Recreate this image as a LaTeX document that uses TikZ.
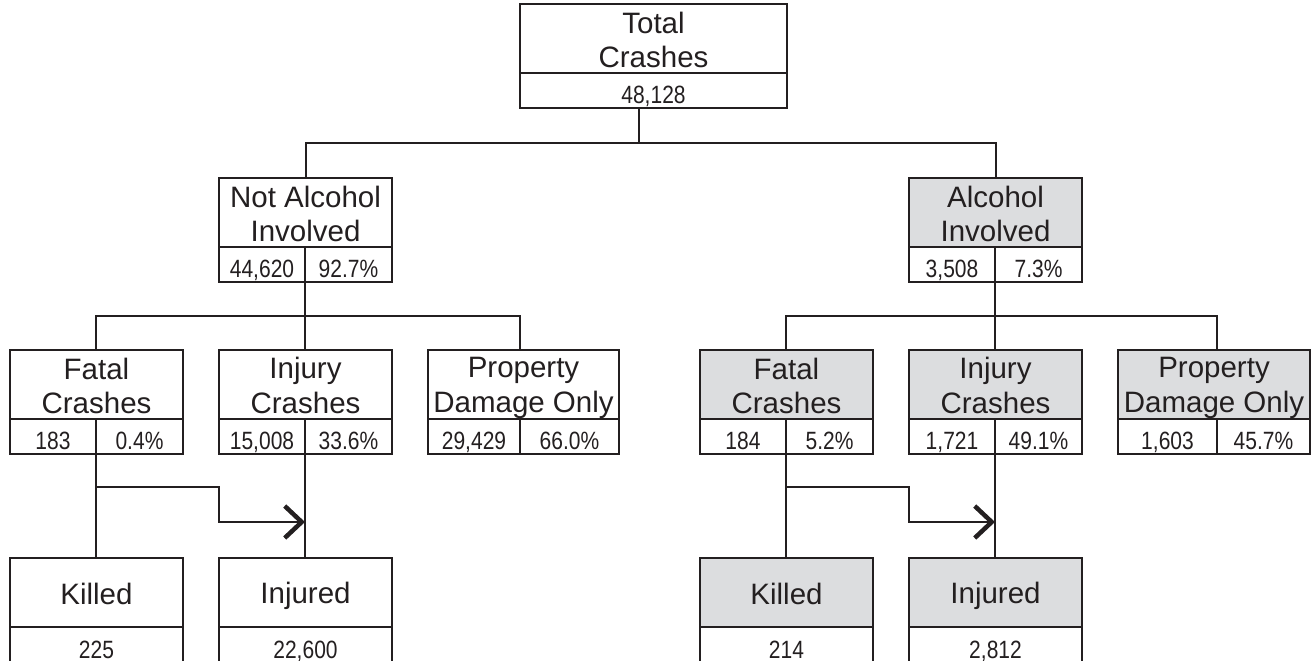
\documentclass[tikz,border=0pt]{standalone}
\usepackage{fontspec}
\setmainfont{Liberation Sans}
\newfontfamily\condfont[FakeStretch=0.84]{Liberation Sans}
\usepackage{xcolor}
\usetikzlibrary{positioning,arrows.meta}
\definecolor{ink}{RGB}{35,31,32}
\definecolor{alcgray}{RGB}{220,221,223}
\newcommand\hstrut{\rule[-4pt]{0pt}{31.5pt}}
\tikzset{
  head/.style={draw=ink, line width=2pt, rectangle, inner sep=0pt, outer sep=0pt, minimum height=69pt, align=center, text=ink, font=\fontsize{29.5pt}{33.5pt}\selectfont},
  cell/.style={draw=ink, line width=2pt, rectangle, inner sep=0pt, outer sep=0pt, minimum height=35pt, text height=28pt, text depth=3pt, text=ink, font=\condfont\fontsize{25pt}{29pt}\selectfont},
  alc/.style={fill=alcgray},
  link/.style={draw=ink, line width=2pt},
  barb/.style={-{Straight Barb[length=17pt,width=32pt,line width=4.5pt]}}
}
\begin{document}
\begin{tikzpicture}[x=1pt, y=-1pt, node distance=0pt]
        \useasboundingbox (0,0) rectangle (1314,661);

        % Total
        \node [head, minimum width=267pt, anchor=north west] (TotalHead) at (520,4) {\hstrut Total\\\hstrut Crashes};
        \node [cell, minimum width=267pt, below=0pt of TotalHead] (TotalNum) {48,128};

        % Not alcohol involved
        \node [head, minimum width=173pt, anchor=north west] (NotAlcHead) at (219,178) {\hstrut Not Alcohol\\\hstrut Involved};
        \node [cell, minimum width=86pt, below right=0pt of NotAlcHead.south west] (NotAlcCnt) {44,620};
        \node [cell, minimum width=87pt, right=0pt of NotAlcCnt] (NotAlcPct) {92.7\%};

        \node [head, minimum width=173pt, anchor=north west] (FatalHeadN) at (10,350) {\hstrut Fatal\\\hstrut Crashes};
        \node [cell, minimum width=86pt, below right=0pt of FatalHeadN.south west] (FatalCntN) {183};
        \node [cell, minimum width=87pt, right=0pt of FatalCntN] (FatalPctN) {0.4\%};

        \node [head, minimum width=173pt, anchor=north west] (InjHeadN) at (219,350) {\hstrut Injury\\\hstrut Crashes};
        \node [cell, minimum width=86pt, below right=0pt of InjHeadN.south west] (InjCntN) {15,008};
        \node [cell, minimum width=87pt, right=0pt of InjCntN] (InjPctN) {33.6\%};

        \node [head, minimum width=191pt, anchor=north west] (PropHeadN) at (428,350) {\hstrut Property\\\hstrut Damage Only};
        \node [cell, minimum width=92pt, below right=0pt of PropHeadN.south west] (PropCntN) {29,429};
        \node [cell, minimum width=99pt, right=0pt of PropCntN] (PropPctN) {66.0\%};

        \node [head, minimum width=173pt, anchor=north west] (KilledHeadN) at (10,558) {\hstrut Killed};
        \node [cell, minimum width=173pt, minimum height=37pt, below=0pt of KilledHeadN] (KilledNumN) {225};

        \node [head, minimum width=173pt, anchor=north west] (InjuredHeadN) at (219,558) {\hstrut Injured};
        \node [cell, minimum width=173pt, minimum height=37pt, below=0pt of InjuredHeadN] (InjuredNumN) {22,600};

        % Alcohol involved
        \node [head, alc, minimum width=173pt, anchor=north west] (AlcHead) at (909,178) {\hstrut Alcohol\\\hstrut Involved};
        \node [cell, minimum width=86pt, below right=0pt of AlcHead.south west] (AlcCnt) {3,508};
        \node [cell, minimum width=87pt, right=0pt of AlcCnt] (AlcPct) {7.3\%};

        \node [head, alc, minimum width=173pt, anchor=north west] (FatalHeadA) at (700,350) {\hstrut Fatal\\\hstrut Crashes};
        \node [cell, minimum width=86pt, below right=0pt of FatalHeadA.south west] (FatalCntA) {184};
        \node [cell, minimum width=87pt, right=0pt of FatalCntA] (FatalPctA) {5.2\%};

        \node [head, alc, minimum width=173pt, anchor=north west] (InjHeadA) at (909,350) {\hstrut Injury\\\hstrut Crashes};
        \node [cell, minimum width=86pt, below right=0pt of InjHeadA.south west] (InjCntA) {1,721};
        \node [cell, minimum width=87pt, right=0pt of InjCntA] (InjPctA) {49.1\%};

        \node [head, alc, minimum width=192pt, anchor=north west] (PropHeadA) at (1118,350) {\hstrut Property\\\hstrut Damage Only};
        \node [cell, minimum width=99pt, below right=0pt of PropHeadA.south west] (PropCntA) {1,603};
        \node [cell, minimum width=93pt, right=0pt of PropCntA] (PropPctA) {45.7\%};

        \node [head, alc, minimum width=173pt, anchor=north west] (KilledHeadA) at (700,558) {\hstrut Killed};
        \node [cell, minimum width=173pt, minimum height=37pt, below=0pt of KilledHeadA] (KilledNumA) {214};

        \node [head, alc, minimum width=173pt, anchor=north west] (InjuredHeadA) at (909,558) {\hstrut Injured};
        \node [cell, minimum width=173pt, minimum height=37pt, below=0pt of InjuredHeadA] (InjuredNumA) {2,812};

        % Tree lines
        \draw [link] ([xshift=-14.5pt]TotalNum.south) -- ++(0,35);
        \draw [link] (NotAlcHead.north) -- ++(0,-35) -| (AlcHead.north);

        \draw [link] (NotAlcCnt.south east) -- (NotAlcCnt.south east |- InjHeadN.north);
        \draw [link] (FatalCntN.south east |- FatalHeadN.north) -- ++(0,-34) -| (PropCntN.south east |- PropHeadN.north);
        \draw [link] (AlcCnt.south east) -- (AlcCnt.south east |- InjHeadA.north);
        \draw [link] (FatalCntA.south east |- FatalHeadA.north) -- ++(0,-34) -| (PropCntA.south east |- PropHeadA.north);

        \draw [link] (FatalCntN.south east) -- (FatalCntN.south east |- KilledHeadN.north);
        \draw [link] (InjCntN.south east) -- (InjCntN.south east |- InjuredHeadN.north);
        \draw [link] (FatalCntA.south east) -- (FatalCntA.south east |- KilledHeadA.north);
        \draw [link] (InjCntA.south east) -- (InjCntA.south east |- InjuredHeadA.north);

        % Arrows
        \coordinate (KneeN) at ([yshift=-33pt]FatalCntN.south east);
        \coordinate (TipN) at ([yshift=-68pt]InjCntN.south east);
        \draw [link, barb] (KneeN) -| (InjuredHeadN.west |- TipN) -- (TipN);
        \coordinate (KneeA) at ([yshift=-33pt]FatalCntA.south east);
        \coordinate (TipA) at ([yshift=-68pt]InjCntA.south east);
        \draw [link, barb] (KneeA) -| (InjuredHeadA.west |- TipA) -- (TipA);
\end{tikzpicture}
\end{document}
